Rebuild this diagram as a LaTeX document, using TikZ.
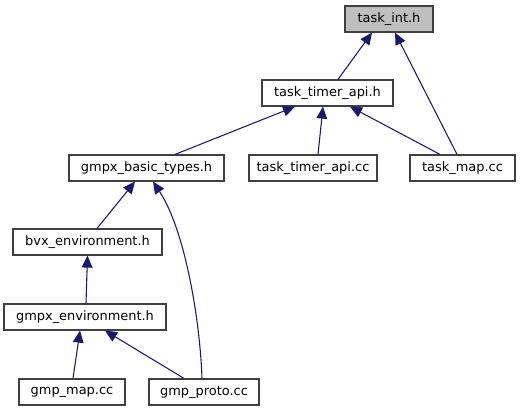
\documentclass[tikz,border=0pt]{standalone}
\usepackage{fontspec}
\setmainfont{DejaVu Sans}
\usetikzlibrary{calc,arrows.meta}
\definecolor{edgecol}{HTML}{191970}
\definecolor{boxline}{HTML}{404040}
\tikzset{
  box/.style={draw=boxline, line width=0.9pt, fill=white, minimum height=19.5pt, inner sep=0pt, font=\fontsize{9.7}{11}\selectfont},
  edge/.style={draw=edgecol, line width=0.8pt, -{Triangle[length=9pt,width=8pt]}},
}
\begin{document}
\begin{tikzpicture}[x=0.75pt,y=-0.75pt]
\fill[white] (0,0) rectangle (520,411);
\useasboundingbox (0,0) rectangle (520,411);
\node[box, fill=black!25, minimum width=66pt] (ti) at (389,19) {task\_int.h};
\node[box, minimum width=98.25pt] (tta) at (327.5,93) {task\_timer\_api.h};
\node[box, minimum width=96pt] (ttacc) at (313,168) {task\_timer\_api.cc};
\node[box, minimum width=78.75pt] (tmap) at (462.5,168) {task\_map.cc};
\node[box, minimum width=116.25pt] (gbt) at (146.5,168) {gmpx\_basic\_types.h};
\node[box, minimum width=111.75pt] (bvx) at (87.5,242) {bvx\_environment.h};
\node[box, minimum width=121.5pt] (genv) at (85,317) {gmpx\_environment.h};
\node[box, minimum width=79.5pt] (gmap) at (72,392) {gmp\_map.cc};
\node[box, minimum width=82.5pt] (gproto) at (204,392) {gmp\_proto.cc};
\draw[edge] ($(tta.north)+(10.5,0)$) -- ($(ti.south)+(-17,0)$);
\draw[edge] ($(tmap.north)+(-5.5,0)$) -- ($(ti.south)+(6,0)$);
\draw[edge] ($(gbt.north)+(28.5,0)$) -- ($(tta.south)+(-32.5,0)$);
\draw[edge] ($(ttacc.north)+(5,0)$) -- ($(tta.south)+(-4.5,0)$);
\draw[edge] ($(tmap.north)+(-22.5,0)$) -- ($(tta.south)+(22.5,0)$);
\draw[edge] ($(bvx.north)+(9.5,0)$) -- ($(gbt.south)+(-11.5,0)$);
\draw[edge] ($(gproto.north)+(-2,0)$) .. controls (200,320) and (185,230) .. ($(gbt.south)+(6.5,0)$);
\draw[edge] ($(genv.north)+(1,0)$) -- ($(bvx.south)+(0,0)$);
\draw[edge] ($(gmap.north)+(1,0)$) -- ($(genv.south)+(-5,0)$);
\draw[edge] ($(gproto.north)+(-20,0)$) -- ($(genv.south)+(20,0)$);
\end{tikzpicture}
\end{document}
